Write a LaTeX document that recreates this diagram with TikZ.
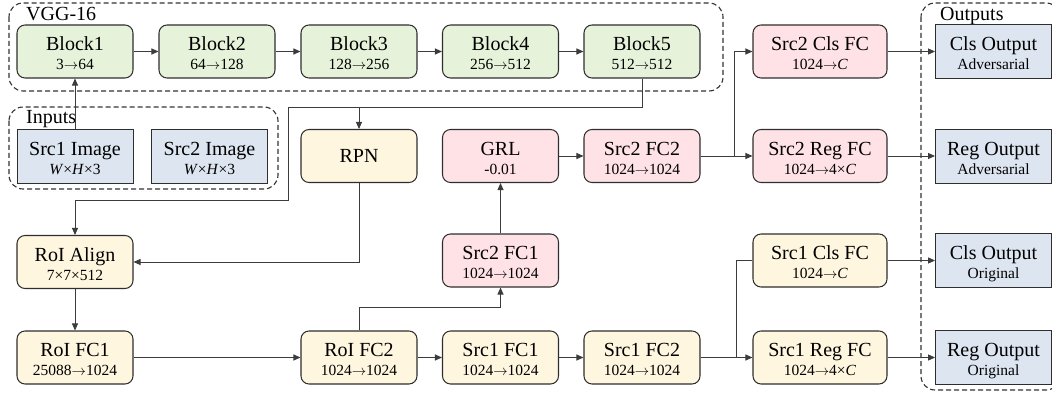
\documentclass[tikz,border=0pt]{standalone}
\usepackage{fontspec}
\setmainfont{Liberation Serif}
\usetikzlibrary{arrows.meta,calc}

\definecolor{vggfill}{HTML}{E6F2DA}
\definecolor{roifill}{HTML}{FFF6DF}
\definecolor{advfill}{HTML}{FFE2E5}
\definecolor{iofill}{HTML}{DDE5F1}
\definecolor{boxline}{HTML}{2E2E2E}
\definecolor{linecol}{HTML}{3C3C3C}

\newcommand{\bigsz}{\rmfamily\fontsize{20}{21}\selectfont}
\newcommand{\subsz}{\rmfamily\fontsize{15.5}{17}\selectfont}
\newcommand{\ra}{\ensuremath{\rightarrow}}
% title line plus a smaller second line, baselines 19pt apart
\newcommand{\twoline}[2]{\vbox{\offinterlineskip\halign{\hfil##\hfil\cr
  \rule{0pt}{17pt}\smash{#1}\cr
  \rule{0pt}{19pt}\smash{\subsz #2}\cr}}}

\tikzset{
  blk/.style={draw=boxline, line width=1.05pt, rounded corners=8pt,
    minimum width=116pt, minimum height=53pt, inner sep=0pt,
    font=\bigsz},
  vgg/.style={blk, fill=vggfill},
  roi/.style={blk, fill=roifill},
  adv/.style={blk, fill=advfill},
  wide/.style={minimum width=134pt},
  io/.style={draw=boxline, line width=0.9pt, fill=iofill,
    minimum width=116pt, minimum height=54pt, inner sep=0pt,
    font=\bigsz},
  conn/.style={draw=linecol, line width=0.9pt},
  arr/.style={conn, -{Triangle[length=7pt,width=6pt]}},
  group/.style={draw=black!80, dash pattern=on 5pt off 3pt,
    line width=1.1pt, rounded corners=14pt},
  grouplabel/.style={anchor=base west, inner sep=0pt, font=\bigsz},
}

\begin{document}
\begin{tikzpicture}[x=1pt, y=-1pt]
\useasboundingbox (0,0) rectangle (1052,393);

% dashed group frames
\draw[group] (9,3) rectangle (723,91);
\draw[group] (9,107) rectangle (278,189);
\draw[group] (921,3) rectangle (1060,390);
\node[grouplabel] (lvgg) at (26,21) {VGG-16};
\node[grouplabel] (lin) at (26,124) {Inputs};
\node[grouplabel] (lout) at (940,21) {Outputs};

% row 1: backbone
\node[vgg] (b1) at (75,51.5)  {\twoline{Block1}{3\ra64}};
\node[vgg] (b2) at (217,51.5) {\twoline{Block2}{64\ra128}};
\node[vgg] (b3) at (359,51.5) {\twoline{Block3}{128\ra256}};
\node[vgg] (b4) at (500.5,51.5) {\twoline{Block4}{256\ra512}};
\node[vgg] (b5) at (642,51.5) {\twoline{Block5}{512\ra512}};
\node[adv, wide] (s2cls) at (820,51.5) {\twoline{Src2 Cls FC}{1024\ra\textit{C}}};
\node[io] (clsadv) at (993.5,51.5) {\twoline{Cls Output}{Adversarial}};

% row 2
\node[io] (in1) at (75,156)  {\twoline{Src1 Image}{\textit{W}×\textit{H}×3}};
\node[io] (in2) at (209.5,156) {\twoline{Src2 Image}{\textit{W}×\textit{H}×3}};
\node[roi] (rpn) at (359,156) {RPN};
\node[adv] (grl) at (500.5,156) {\twoline{GRL}{-0.01}};
\node[adv] (s2fc2) at (642,156) {\twoline{Src2 FC2}{1024\ra1024}};
\node[adv, wide] (s2reg) at (820,156) {\twoline{Src2 Reg FC}{1024\ra4×\textit{C}}};
\node[io] (regadv) at (993.5,156) {\twoline{Reg Output}{Adversarial}};

% row 3
\node[roi] (align) at (75,262) {\twoline{RoI Align}{7×7×512}};
\node[adv] (s2fc1) at (500.5,260.5) {\twoline{Src2 FC1}{1024\ra1024}};
\node[roi, wide] (s1cls) at (820,260.5) {\twoline{Src1 Cls FC}{1024\ra\textit{C}}};
\node[io] (clsorig) at (993.5,260.5) {\twoline{Cls Output}{Original}};

% row 4
\node[roi] (fc1) at (75,357.5) {\twoline{RoI FC1}{25088\ra1024}};
\node[roi] (fc2) at (359,357.5) {\twoline{RoI FC2}{1024\ra1024}};
\node[roi] (s1fc1) at (500.5,357.5) {\twoline{Src1 FC1}{1024\ra1024}};
\node[roi] (s1fc2) at (642,357.5) {\twoline{Src1 FC2}{1024\ra1024}};
\node[roi, wide] (s1reg) at (820,357.5) {\twoline{Src1 Reg FC}{1024\ra4×\textit{C}}};
\node[io] (regorig) at (993.5,357.5) {\twoline{Reg Output}{Original}};

% backbone chain
\draw[arr] (in1.north) -- (b1.south);
\draw[arr] (b1) -- (b2);
\draw[arr] (b2) -- (b3);
\draw[arr] (b3) -- (b4);
\draw[arr] (b4) -- (b5);

% feature map to RPN and RoI Align
\coordinate (busL) at (288,107);
\coordinate (drop) at (288,200);
\draw[arr] (b5.south) |- (busL) -- (drop) -| (align.north);
\draw[arr] (rpn.north |- busL) -- (rpn.north);
\draw[arr] (rpn.south) |- (align.east);

% RoI head
\draw[arr] (align) -- (fc1);
\draw[arr] (fc1) -- (fc2);
\draw[arr] (fc2) -- (s1fc1);
\draw[arr] (s1fc1) -- (s1fc2);

% adversarial branch
\draw[arr] (fc2.north) -- ++(0,-23) -| (s2fc1.south);
\draw[arr] (s2fc1) -- (grl);
\draw[arr] (grl) -- (s2fc2);
\draw[arr] (s2fc2.east) -- (s2reg.west);
\draw[arr] (s2fc2.east) -- ++(34,0) |- (s2cls.west);
\draw[arr] (s2cls) -- (clsadv);
\draw[arr] (s2reg) -- (regadv);

% original branch
\draw[arr] (s1fc2.east) -- (s1reg.west);
\draw[conn] (s1fc2.east) -- ++(36,0) |- (s1cls.west);
\draw[arr] (s1cls) -- (clsorig);
\draw[arr] (s1reg) -- (regorig);
\end{tikzpicture}
\end{document}
